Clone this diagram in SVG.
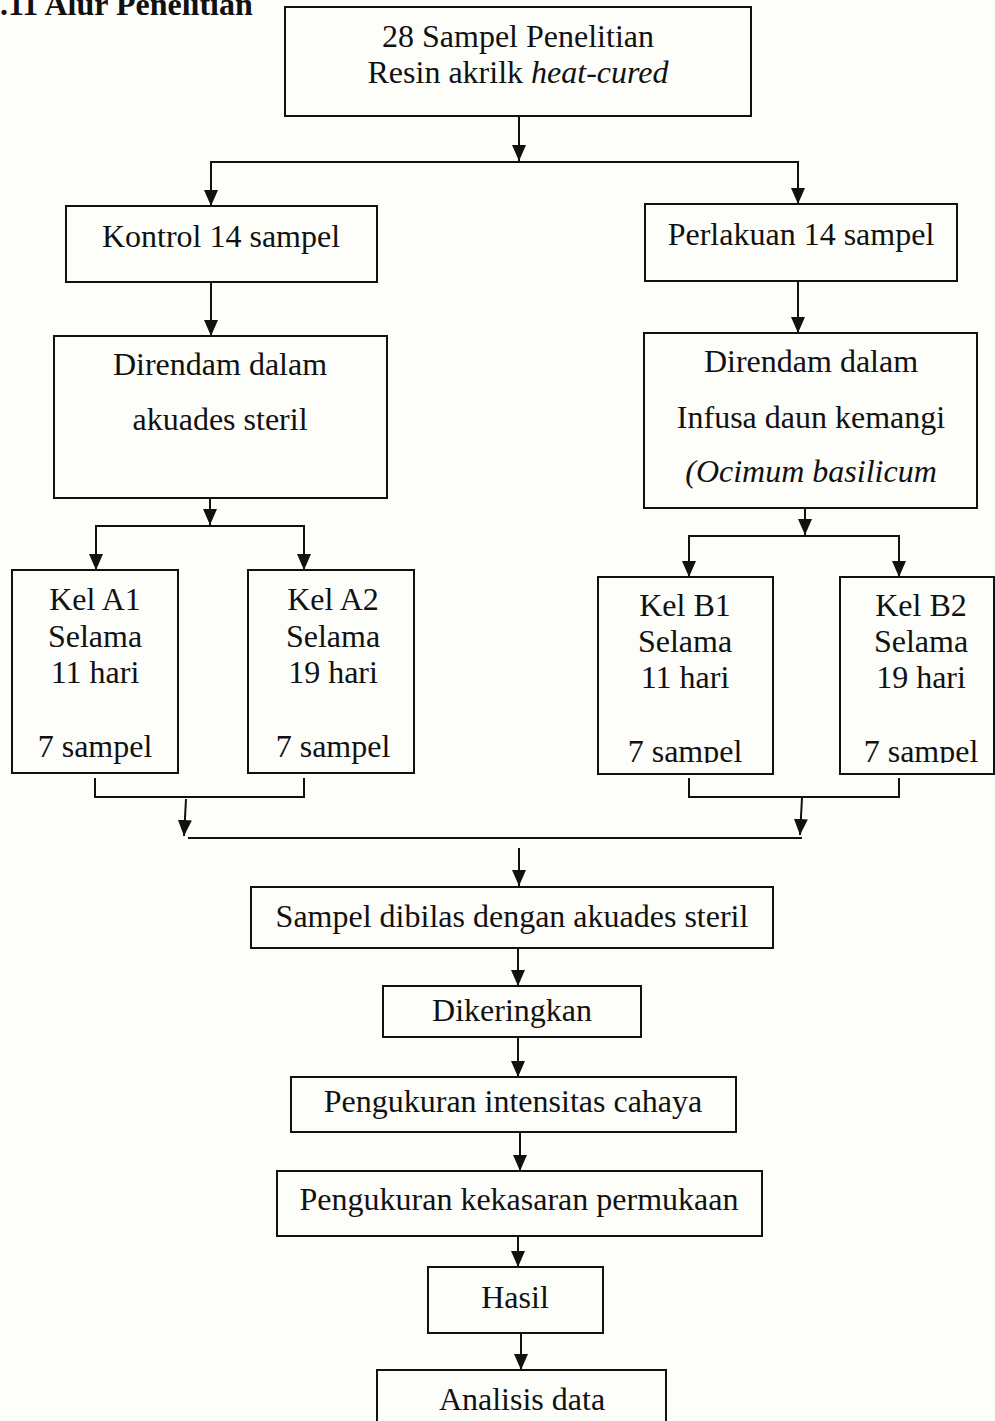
<svg xmlns="http://www.w3.org/2000/svg" width="995" height="1421" viewBox="0 0 995 1421">
<style>
.bx{fill:none;stroke:#111;stroke-width:2}
.t{font-family:"Liberation Serif","Times New Roman",serif;font-size:32px;fill:#111;text-anchor:middle}
.i{font-style:italic}
.c{fill:none;stroke:#111;stroke-width:2}
.ttl{font-family:"Liberation Serif","Times New Roman",serif;font-size:32px;font-weight:bold;fill:#111}
</style>
<defs>
<marker id="ah" markerUnits="userSpaceOnUse" markerWidth="16" markerHeight="14" viewBox="0 0 16 14" refX="16" refY="7" orient="auto">
<path d="M0,0 L16,7 L0,14 z" fill="#111"/>
</marker>
<clipPath id="clipB"><rect x="590" y="570" width="405" height="193"/></clipPath>
</defs>
<rect x="0" y="0" width="995" height="1421" fill="#fdfdf9"/>
<text class="ttl" x="0" y="15">.11 Alur Penelitian</text>

<g id="connectors">
<line class="c" x1="519" y1="116" x2="519" y2="161" marker-end="url(#ah)"/>
<line class="c" x1="210" y1="162" x2="799" y2="162"/>
<line class="c" x1="211" y1="162" x2="211" y2="206" marker-end="url(#ah)"/>
<line class="c" x1="798" y1="162" x2="798" y2="204" marker-end="url(#ah)"/>
<line class="c" x1="211" y1="282" x2="211" y2="336" marker-end="url(#ah)"/>
<line class="c" x1="798" y1="281" x2="798" y2="333" marker-end="url(#ah)"/>
<line class="c" x1="210" y1="498" x2="210" y2="525" marker-end="url(#ah)"/>
<line class="c" x1="95" y1="526" x2="305" y2="526"/>
<line class="c" x1="96" y1="526" x2="96" y2="570" marker-end="url(#ah)"/>
<line class="c" x1="304" y1="526" x2="304" y2="570" marker-end="url(#ah)"/>
<line class="c" x1="805" y1="508" x2="805" y2="535" marker-end="url(#ah)"/>
<line class="c" x1="688" y1="536" x2="900" y2="536"/>
<line class="c" x1="689" y1="536" x2="689" y2="577" marker-end="url(#ah)"/>
<line class="c" x1="899" y1="536" x2="899" y2="577" marker-end="url(#ah)"/>
<polyline class="c" points="95,778 95,797 304,797 304,778"/>
<polyline class="c" points="689,778 689,797 899,797 899,778"/>
<line class="c" x1="186" y1="799" x2="184" y2="836" marker-end="url(#ah)"/>
<line class="c" x1="802" y1="798" x2="800" y2="835" marker-end="url(#ah)"/>
<line class="c" x1="188" y1="838" x2="802" y2="838"/>
<line class="c" x1="519" y1="848" x2="519" y2="886" marker-end="url(#ah)"/>
<line class="c" x1="518" y1="948" x2="518" y2="986" marker-end="url(#ah)"/>
<line class="c" x1="518" y1="1037" x2="518" y2="1077" marker-end="url(#ah)"/>
<line class="c" x1="520" y1="1132" x2="520" y2="1171" marker-end="url(#ah)"/>
<line class="c" x1="518" y1="1236" x2="518" y2="1267" marker-end="url(#ah)"/>
<line class="c" x1="521" y1="1333" x2="521" y2="1370" marker-end="url(#ah)"/>
</g>

<g id="n-sampel">
<rect class="bx" x="285" y="7" width="466" height="109"/>
<text class="t" x="518" y="47">28 Sampel Penelitian</text>
<text class="t" x="518" y="83">Resin akrilk <tspan class="i">heat-cured</tspan></text>
</g>
<g id="n-kontrol">
<rect class="bx" x="66" y="206" width="311" height="76"/>
<text class="t" x="221" y="247">Kontrol 14 sampel</text>
</g>
<g id="n-perlakuan">
<rect class="bx" x="645" y="204" width="312" height="77"/>
<text class="t" x="801" y="245">Perlakuan 14 sampel</text>
</g>
<g id="n-rendam-a">
<rect class="bx" x="54" y="336" width="333" height="162"/>
<text class="t" x="220" y="375">Direndam dalam</text>
<text class="t" x="220" y="430">akuades steril</text>
</g>
<g id="n-rendam-b">
<rect class="bx" x="644" y="333" width="333" height="175"/>
<text class="t" x="811" y="372">Direndam dalam</text>
<text class="t" x="811" y="428">Infusa daun kemangi</text>
<text class="t i" x="811" y="482">(Ocimum basilicum</text>
</g>
<g id="n-a1">
<rect class="bx" x="12" y="570" width="166" height="203"/>
<text class="t" x="95" y="610">Kel A1</text>
<text class="t" x="95" y="647">Selama</text>
<text class="t" x="95" y="683">11 hari</text>
<text class="t" x="95" y="757">7 sampel</text>
</g>
<g id="n-a2">
<rect class="bx" x="248" y="570" width="166" height="203"/>
<text class="t" x="333" y="610">Kel A2</text>
<text class="t" x="333" y="647">Selama</text>
<text class="t" x="333" y="683">19 hari</text>
<text class="t" x="333" y="757">7 sampel</text>
</g>
<g id="n-b1">
<rect class="bx" x="598" y="577" width="175" height="197"/>
<g clip-path="url(#clipB)">
<text class="t" x="685" y="616">Kel B1</text>
<text class="t" x="685" y="652">Selama</text>
<text class="t" x="685" y="688">11 hari</text>
<text class="t" x="685" y="762">7 sampel</text>
</g>
</g>
<g id="n-b2">
<rect class="bx" x="840" y="577" width="154" height="197"/>
<g clip-path="url(#clipB)">
<text class="t" x="921" y="616">Kel B2</text>
<text class="t" x="921" y="652">Selama</text>
<text class="t" x="921" y="688">19 hari</text>
<text class="t" x="921" y="762">7 sampel</text>
</g>
</g>
<g id="n-bilas">
<rect class="bx" x="251" y="887" width="522" height="61"/>
<text class="t" x="512" y="927">Sampel dibilas dengan akuades steril</text>
</g>
<g id="n-kering">
<rect class="bx" x="383" y="986" width="258" height="51"/>
<text class="t" x="512" y="1021">Dikeringkan</text>
</g>
<g id="n-intensitas">
<rect class="bx" x="291" y="1077" width="445" height="55"/>
<text class="t" x="513" y="1112">Pengukuran intensitas cahaya</text>
</g>
<g id="n-kekasaran">
<rect class="bx" x="277" y="1171" width="485" height="65"/>
<text class="t" x="519" y="1210">Pengukuran kekasaran permukaan</text>
</g>
<g id="n-hasil">
<rect class="bx" x="428" y="1267" width="175" height="66"/>
<text class="t" x="515" y="1308">Hasil</text>
</g>
<g id="n-analisis">
<rect class="bx" x="377" y="1370" width="289" height="70"/>
<text class="t" x="522" y="1410">Analisis data</text>
</g>
</svg>
